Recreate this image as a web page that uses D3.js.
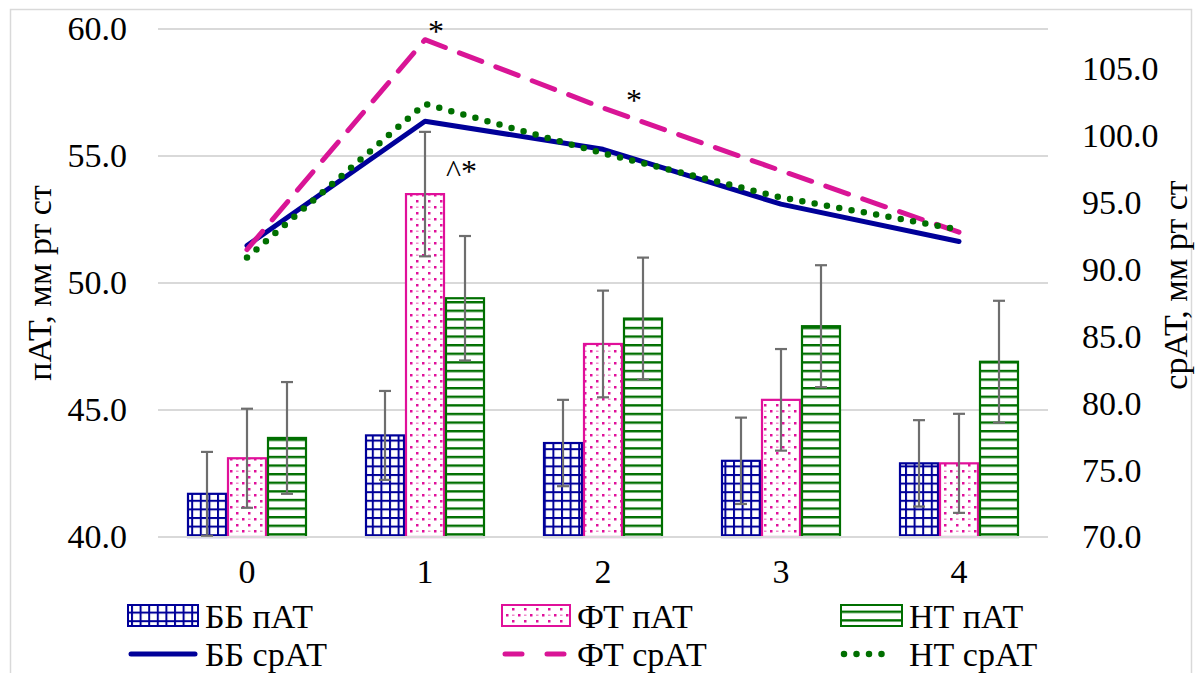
<!DOCTYPE html>
<html>
<head>
<meta charset="utf-8">
<script src="https://cdn.jsdelivr.net/npm/d3@7"></script>
<style>
  html, body { margin: 0; padding: 0; background: #fff; }
  svg { display: block; }
  svg text { font-family: "Liberation Serif", "Times New Roman", Tinos, Times, "DejaVu Serif", serif; }
</style>
</head>
<body>
<svg id="chart" width="1196" height="673"></svg>
<script>
// Time points
const categories = ["0", "1", "2", "3", "4"];

// пАТ (pulse pressure), left axis, mm Hg
const bbPulse = [41.7, 44.0, 43.7, 43.0, 42.9];
const ftPulse = [43.1, 53.5, 47.6, 45.4, 42.9];
const ntPulse = [43.9, 49.4, 48.6, 48.3, 46.9];

// Error bar half-widths for пАТ
const bbPulseErr = [1.65, 1.75, 1.7, 1.7, 1.7];
const ftPulseErr = [1.95, 2.45, 2.1, 2.0, 1.95];
const ntPulseErr = [2.2, 2.45, 2.4, 2.4, 2.4];

// срАТ (mean pressure), right axis, mm Hg
const bbMean = [91.8, 101.1, 99.0, 94.9, 92.1];
const ftMean = [91.5, 107.2, 102.1, 97.4, 92.8];
const ntMean = [90.9, 102.4, 98.7, 95.4, 93.0];

// Axis ticks
const leftTicks = [40, 45, 50, 55, 60];
const rightTicks = [70, 75, 80, 85, 90, 95, 100, 105];

// Significance marks: [category, axis, value, text]
const marks = [
  ["1", "right", 107.2, "*"],
  ["2", "right", 102.1, "*"],
  ["1", "left", 53.5, "^*"]
];

const barSeries = [
  { key: "bb", label: "ББ пАТ", values: bbPulse, err: bbPulseErr, color: "#000099", pattern: "pat-grid" },
  { key: "ft", label: "ФТ пАТ", values: ftPulse, err: ftPulseErr, color: "#e0109a", pattern: "pat-dots" },
  { key: "nt", label: "НТ пАТ", values: ntPulse, err: ntPulseErr, color: "#006f00", pattern: "pat-hlines" }
];
const lineSeries = [
  { key: "bb", label: "ББ срАТ", values: bbMean, color: "#000099", dash: null, width: 5 },
  { key: "ft", label: "ФТ срАТ", values: ftMean, color: "#d91596", dash: "24 15", width: 5 },
  { key: "nt", label: "НТ срАТ", values: ntMean, color: "#006f00", dash: "0 12.5", width: 6.5 }
];

const svg = d3.select("#chart");
const plot = { left: 158, right: 1048, top: 29, bottom: 537 };

// Outer frame
svg.append("rect")
  .attr("x", 10.5).attr("y", 9.5).attr("width", 1181).attr("height", 680)
  .attr("fill", "#fff").attr("stroke", "#d9d9d9").attr("stroke-width", 1.5);

// Fill patterns
const defs = svg.append("defs");
const grid = defs.append("pattern").attr("id", "pat-grid")
  .attr("patternUnits", "userSpaceOnUse").attr("width", 8.6).attr("height", 8.6)
  .attr("x", 2).attr("y", 1);
grid.append("rect").attr("width", 8.6).attr("height", 8.6).attr("fill", "#fff");
grid.append("rect").attr("x", 0).attr("y", 0).attr("width", 2).attr("height", 8.6).attr("fill", "#000099");
grid.append("rect").attr("x", 0).attr("y", 0).attr("width", 8.6).attr("height", 2).attr("fill", "#000099");

const dots = defs.append("pattern").attr("id", "pat-dots")
  .attr("patternUnits", "userSpaceOnUse").attr("width", 12).attr("height", 12);
dots.append("rect").attr("width", 12).attr("height", 12).attr("fill", "#fff");
dots.append("rect").attr("x", 2).attr("y", 2).attr("width", 2.5).attr("height", 2.5).attr("fill", "#e0109a");
dots.append("rect").attr("x", 8).attr("y", 8).attr("width", 2.5).attr("height", 2.5).attr("fill", "#e0109a");
dots.append("rect").attr("x", 8).attr("y", 2.5).attr("width", 2.5).attr("height", 1.5).attr("fill", "#f08ccc");

const hl = defs.append("pattern").attr("id", "pat-hlines")
  .attr("patternUnits", "userSpaceOnUse").attr("width", 8).attr("height", 8.6);
hl.append("rect").attr("width", 8).attr("height", 8.6).attr("fill", "#fff");
hl.append("rect").attr("x", 0).attr("y", 0).attr("width", 8).attr("height", 2.4).attr("fill", "#006f00");

// Scales
const x0 = d3.scaleBand().domain(categories).range([plot.left, plot.right]).padding(0);
const groupWidth = 120;
const x1 = d3.scaleBand().domain(barSeries.map(d => d.key)).range([0, groupWidth]).padding(0);
const groupOffset = (x0.bandwidth() - groupWidth) / 2;
const yL = d3.scaleLinear().domain([40, 60]).range([plot.bottom, plot.top]);
const yR = d3.scaleLinear().domain([70, 108]).range([plot.bottom, plot.top]);
const cx = c => x0(c) + x0.bandwidth() / 2;

// Gridlines (left axis)
svg.append("g")
  .selectAll("line").data(leftTicks).join("line")
  .attr("x1", plot.left).attr("x2", plot.right)
  .attr("y1", d => yL(d)).attr("y2", d => yL(d))
  .attr("stroke", "#d9d9d9").attr("stroke-width", 2);

// Left axis labels
const leftAxis = d3.axisLeft(yL).tickValues(leftTicks).tickFormat(d3.format(".1f")).tickSize(0).tickPadding(31);
const gL = svg.append("g").attr("transform", `translate(${plot.left},0)`).call(leftAxis);
gL.attr("font-family", null).attr("font-size", null);
gL.select(".domain").remove();
gL.selectAll("text").attr("font-size", 34).attr("fill", "#000");

// Right axis labels
const rightAxis = d3.axisRight(yR).tickValues(rightTicks).tickFormat(d3.format(".1f")).tickSize(0).tickPadding(34);
const gR = svg.append("g").attr("transform", `translate(${plot.right},0)`).call(rightAxis);
gR.attr("font-family", null).attr("font-size", null);
gR.select(".domain").remove();
gR.selectAll("text").attr("font-size", 34).attr("fill", "#000");

// Category axis labels
const bottomAxis = d3.axisBottom(x0).tickSize(0).tickPadding(22);
const gB = svg.append("g").attr("transform", `translate(0,${plot.bottom})`).call(bottomAxis);
gB.attr("font-family", null).attr("font-size", null);
gB.select(".domain").remove();
gB.selectAll("text").attr("font-size", 34).attr("fill", "#000");

// Bars
barSeries.forEach(s => {
  const g = svg.append("g");
  g.selectAll("rect").data(categories).join("rect")
    .attr("x", (c) => x0(c) + groupOffset + x1(s.key) + 1)
    .attr("width", x1.bandwidth() - 2)
    .attr("y", (c, i) => yL(s.values[i]))
    .attr("height", (c, i) => yL(40) - yL(s.values[i]))
    .attr("fill", `url(#${s.pattern})`)
    .attr("stroke", s.color).attr("stroke-width", 2.2);
});

// Axis baseline
svg.append("line")
  .attr("x1", plot.left).attr("x2", plot.right)
  .attr("y1", yL(40)).attr("y2", yL(40))
  .attr("stroke", "#d9d9d9").attr("stroke-width", 2);

// Error bars
barSeries.forEach(s => {
  const g = svg.append("g").attr("stroke", "#6e6e6e").attr("stroke-width", 2.2);
  categories.forEach((c, i) => {
    const xc = x0(c) + groupOffset + x1(s.key) + x1.bandwidth() / 2;
    const lo = yL(s.values[i] - s.err[i]);
    const hi = yL(s.values[i] + s.err[i]);
    g.append("line").attr("x1", xc).attr("x2", xc).attr("y1", lo).attr("y2", hi);
    g.append("line").attr("x1", xc - 6).attr("x2", xc + 6).attr("y1", lo).attr("y2", lo);
    g.append("line").attr("x1", xc - 6).attr("x2", xc + 6).attr("y1", hi).attr("y2", hi);
  });
});

// Lines
const lineGen = d3.line().x((d, i) => cx(categories[i])).y(d => yR(d));
lineSeries.forEach(s => {
  svg.append("path")
    .datum(s.values)
    .attr("d", lineGen)
    .attr("fill", "none")
    .attr("stroke", s.color)
    .attr("stroke-width", s.width)
    .attr("stroke-linecap", "round")
    .attr("stroke-linejoin", "round")
    .attr("stroke-dasharray", s.dash);
});

// Significance marks (offsets keep them clear of the lines)
const markOffsets = [[11, 2], [31, 3], [21, -12]];
marks.forEach(([c, axis, v, t], i) => {
  const [dx, dy] = markOffsets[i];
  const x = cx(c) + dx;
  const y = (axis === "right" ? yR(v) : yL(v)) + dy;
  svg.append("text")
    .attr("x", x).attr("y", y)
    .attr("font-size", 32)
    .attr("text-anchor", axis === "right" ? "middle" : "start")
    .text(t);
});

// Axis titles
svg.append("text")
  .attr("transform", `translate(51,${(plot.top + plot.bottom) / 2}) rotate(-90)`)
  .attr("text-anchor", "middle").attr("font-size", 34)
  .text("пАТ, мм рт ст");
svg.append("text")
  .attr("transform", `translate(1187,${(plot.top + plot.bottom) / 2 + 2}) rotate(-90)`)
  .attr("text-anchor", "middle").attr("font-size", 34)
  .text("срАТ, мм рт ст");

// Legend
const legendX = [128, 502, 841];
const legendSwatchW = [70, 68, 61];
const legend = svg.append("g").attr("font-size", 34);
barSeries.forEach((s, i) => {
  legend.append("rect")
    .attr("x", legendX[i]).attr("y", 605).attr("width", legendSwatchW[i]).attr("height", 21)
    .attr("fill", `url(#${s.pattern})`).attr("stroke", s.color).attr("stroke-width", 2);
  legend.append("text").attr("x", legendX[i] + legendSwatchW[i] + 7).attr("y", 628).text(s.label);
});
lineSeries.forEach((s, i) => {
  const w = i === 2 ? 55 : legendSwatchW[i];
  legend.append("line")
    .attr("x1", legendX[i] + 3).attr("x2", legendX[i] + w - 3)
    .attr("y1", 654).attr("y2", 654)
    .attr("stroke", s.color).attr("stroke-width", s.width)
    .attr("stroke-linecap", "round")
    .attr("stroke-dasharray", i === 1 ? "17 25" : s.dash);
  legend.append("text").attr("x", legendX[i] + legendSwatchW[i] + 7).attr("y", 666).text(s.label);
});
</script>
</body>
</html>
